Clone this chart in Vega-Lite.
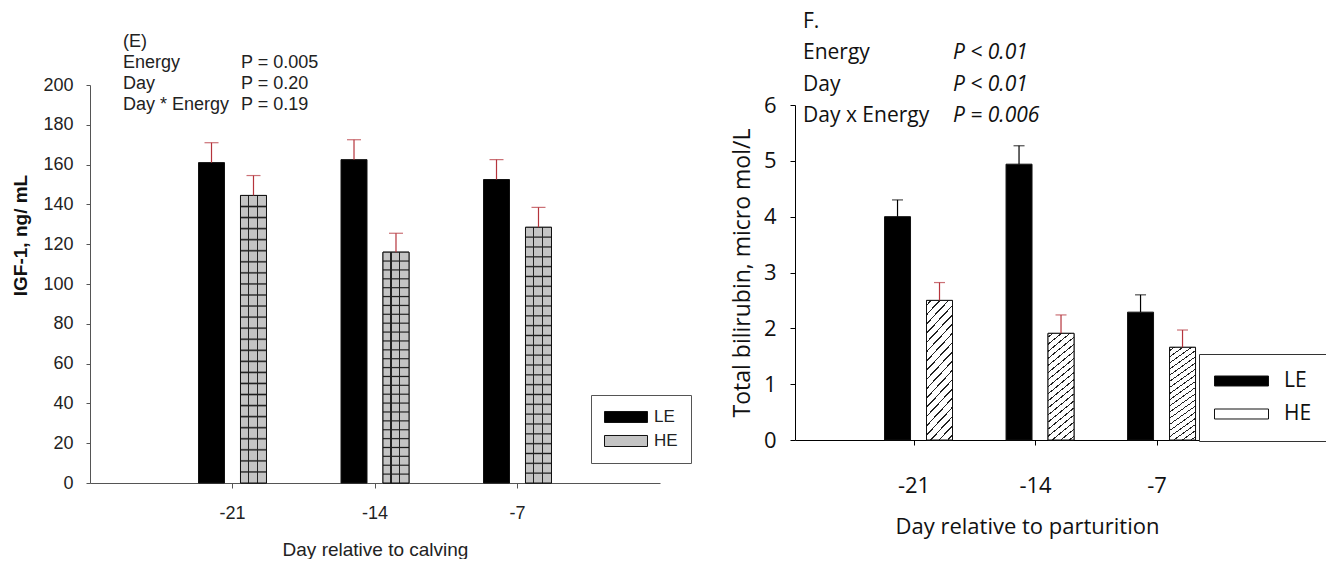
{
  "$schema": "https://vega.github.io/schema/vega-lite/v6.json",
  "padding": {"left": 11, "top": 11, "right": 0, "bottom": 0},
  "background": "white",
  "bounds": "flush",
  "spacing": 135,
  "config": {"view": {"stroke": null}, "axis": {"grid": false}},
  "resolve": {"scale": {"fill": "independent"}, "legend": {"fill": "independent"}},
  "datasets": {
    "igf": [
      {"day": -21, "energy": "LE", "mean": 161, "upper": 171},
      {"day": -21, "energy": "HE", "mean": 144.5, "upper": 154.5},
      {"day": -14, "energy": "LE", "mean": 162.5, "upper": 172.5},
      {"day": -14, "energy": "HE", "mean": 116, "upper": 125.5},
      {"day": -7, "energy": "LE", "mean": 152.5, "upper": 162.5},
      {"day": -7, "energy": "HE", "mean": 128.5, "upper": 138.5}
    ],
    "bili": [
      {"day": -21, "energy": "LE", "mean": 4.0, "upper": 4.3},
      {"day": -21, "energy": "HE", "mean": 2.5, "upper": 2.82},
      {"day": -14, "energy": "LE", "mean": 4.94, "upper": 5.27},
      {"day": -14, "energy": "HE", "mean": 1.91, "upper": 2.24},
      {"day": -7, "energy": "LE", "mean": 2.29, "upper": 2.6},
      {"day": -7, "energy": "HE", "mean": 1.66, "upper": 1.97}
    ],
    "annE": [
      {"row": "(E)", "col": "label", "text": "(E)"},
      {"row": "Energy", "col": "label", "text": "Energy"},
      {"row": "Energy", "col": "p", "text": "P = 0.005"},
      {"row": "Day", "col": "label", "text": "Day"},
      {"row": "Day", "col": "p", "text": "P = 0.20"},
      {"row": "Day * Energy", "col": "label", "text": "Day * Energy"},
      {"row": "Day * Energy", "col": "p", "text": "P = 0.19"}
    ],
    "annF": [
      {"row": "F.", "col": "label", "text": "F."},
      {"row": "Energy", "col": "label", "text": "Energy"},
      {"row": "Energy", "col": "p", "text": "P < 0.01"},
      {"row": "Day", "col": "label", "text": "Day"},
      {"row": "Day", "col": "p", "text": "P < 0.01"},
      {"row": "Day x Energy", "col": "label", "text": "Day x Energy"},
      {"row": "Day x Energy", "col": "p", "text": "P = 0.006"}
    ]
  },
  "hconcat": [
    {
      "width": 570,
      "height": 398,
      "layer": [
        {
          "data": {"name": "igf"},
          "encoding": {
            "x": {
              "field": "day", "type": "ordinal",
              "scale": {"type": "band", "domain": [-21, -14, -7], "paddingInner": 0.523, "paddingOuter": 0.7615},
              "axis": {"title": "Day relative to calving", "labelAngle": 0, "labelFont": "Liberation Sans", "labelFontSize": 18, "labelColor": "#222", "labelPadding": 16, "tickSize": 5, "tickColor": "#555", "domainColor": "#555", "titleFont": "Liberation Sans", "titleFontSize": 19, "titleFontWeight": "normal", "titleColor": "#222", "titlePadding": 18}
            },
            "xOffset": {"field": "energy", "type": "nominal", "scale": {"domain": ["LE", "HE"], "paddingInner": 0.381, "paddingOuter": 0}},
            "y": {
              "field": "mean", "type": "quantitative",
              "scale": {"domain": [0, 200], "nice": false},
              "axis": {"title": "IGF-1, ng/ mL", "titleY": 150, "values": [0, 20, 40, 60, 80, 100, 120, 140, 160, 180, 200], "tickSize": 4, "labelPadding": 13, "labelFont": "Liberation Sans", "labelFontSize": 18, "labelColor": "#222", "domainColor": "#555", "tickColor": "#555", "titleFont": "Liberation Sans", "titleFontSize": 19, "titleFontWeight": "bold", "titleColor": "#111", "titlePadding": 12}
            }
          },
          "layer": [
            {
              "mark": {"type": "bar", "stroke": "#111", "strokeWidth": 1},
              "encoding": {
                "fill": {
                  "field": "energy", "type": "nominal",
                  "scale": {"domain": ["LE", "HE"], "range": ["#000000", "#c4c4c4"]},
                  "legend": {"title": null, "orient": "none", "legendX": 501, "legendY": 310, "direction": "vertical", "symbolType": "M-1,-0.256H1V0.256H-1Z", "symbolSize": 1849, "symbolStrokeColor": "#111", "symbolStrokeWidth": 1, "labelFont": "Liberation Sans", "labelFontSize": 17, "labelColor": "#222", "labelOffset": 6, "padding": 13, "clipHeight": 18, "rowPadding": 6, "strokeColor": "#555", "fillColor": "white"}
                }
              }
            },
            {
              "transform": [{"filter": "datum.energy == 'HE'"}],
              "mark": {
                "type": "bar", "strokeWidth": 0,
                "fill": {"gradient": "linear", "x1": 0, "y1": 0, "x2": 0, "y2": 1, "stops": [
                  {"offset": 0, "color": "#c4c4c4"},
                  {"offset": 0.0335, "color": "#c4c4c4"}, {"offset": 0.0385, "color": "#1a1a1a"}, {"offset": 0.0435, "color": "#c4c4c4"},
                  {"offset": 0.0719, "color": "#c4c4c4"}, {"offset": 0.0769, "color": "#1a1a1a"}, {"offset": 0.0819, "color": "#c4c4c4"},
                  {"offset": 0.1104, "color": "#c4c4c4"}, {"offset": 0.1154, "color": "#1a1a1a"}, {"offset": 0.1204, "color": "#c4c4c4"},
                  {"offset": 0.1488, "color": "#c4c4c4"}, {"offset": 0.1538, "color": "#1a1a1a"}, {"offset": 0.1588, "color": "#c4c4c4"},
                  {"offset": 0.1873, "color": "#c4c4c4"}, {"offset": 0.1923, "color": "#1a1a1a"}, {"offset": 0.1973, "color": "#c4c4c4"},
                  {"offset": 0.2258, "color": "#c4c4c4"}, {"offset": 0.2308, "color": "#1a1a1a"}, {"offset": 0.2358, "color": "#c4c4c4"},
                  {"offset": 0.2642, "color": "#c4c4c4"}, {"offset": 0.2692, "color": "#1a1a1a"}, {"offset": 0.2742, "color": "#c4c4c4"},
                  {"offset": 0.3027, "color": "#c4c4c4"}, {"offset": 0.3077, "color": "#1a1a1a"}, {"offset": 0.3127, "color": "#c4c4c4"},
                  {"offset": 0.3412, "color": "#c4c4c4"}, {"offset": 0.3462, "color": "#1a1a1a"}, {"offset": 0.3512, "color": "#c4c4c4"},
                  {"offset": 0.3796, "color": "#c4c4c4"}, {"offset": 0.3846, "color": "#1a1a1a"}, {"offset": 0.3896, "color": "#c4c4c4"},
                  {"offset": 0.4181, "color": "#c4c4c4"}, {"offset": 0.4231, "color": "#1a1a1a"}, {"offset": 0.4281, "color": "#c4c4c4"},
                  {"offset": 0.4565, "color": "#c4c4c4"}, {"offset": 0.4615, "color": "#1a1a1a"}, {"offset": 0.4665, "color": "#c4c4c4"},
                  {"offset": 0.495, "color": "#c4c4c4"}, {"offset": 0.5, "color": "#1a1a1a"}, {"offset": 0.505, "color": "#c4c4c4"},
                  {"offset": 0.5335, "color": "#c4c4c4"}, {"offset": 0.5385, "color": "#1a1a1a"}, {"offset": 0.5435, "color": "#c4c4c4"},
                  {"offset": 0.5719, "color": "#c4c4c4"}, {"offset": 0.5769, "color": "#1a1a1a"}, {"offset": 0.5819, "color": "#c4c4c4"},
                  {"offset": 0.6104, "color": "#c4c4c4"}, {"offset": 0.6154, "color": "#1a1a1a"}, {"offset": 0.6204, "color": "#c4c4c4"},
                  {"offset": 0.6488, "color": "#c4c4c4"}, {"offset": 0.6538, "color": "#1a1a1a"}, {"offset": 0.6588, "color": "#c4c4c4"},
                  {"offset": 0.6873, "color": "#c4c4c4"}, {"offset": 0.6923, "color": "#1a1a1a"}, {"offset": 0.6973, "color": "#c4c4c4"},
                  {"offset": 0.7258, "color": "#c4c4c4"}, {"offset": 0.7308, "color": "#1a1a1a"}, {"offset": 0.7358, "color": "#c4c4c4"},
                  {"offset": 0.7642, "color": "#c4c4c4"}, {"offset": 0.7692, "color": "#1a1a1a"}, {"offset": 0.7742, "color": "#c4c4c4"},
                  {"offset": 0.8027, "color": "#c4c4c4"}, {"offset": 0.8077, "color": "#1a1a1a"}, {"offset": 0.8127, "color": "#c4c4c4"},
                  {"offset": 0.8412, "color": "#c4c4c4"}, {"offset": 0.8462, "color": "#1a1a1a"}, {"offset": 0.8512, "color": "#c4c4c4"},
                  {"offset": 0.8796, "color": "#c4c4c4"}, {"offset": 0.8846, "color": "#1a1a1a"}, {"offset": 0.8896, "color": "#c4c4c4"},
                  {"offset": 0.9181, "color": "#c4c4c4"}, {"offset": 0.9231, "color": "#1a1a1a"}, {"offset": 0.9281, "color": "#c4c4c4"},
                  {"offset": 0.9565, "color": "#c4c4c4"}, {"offset": 0.9615, "color": "#1a1a1a"}, {"offset": 0.9665, "color": "#c4c4c4"},
                  {"offset": 1, "color": "#c4c4c4"}
                ]}
              }
            },
            {
              "transform": [{"filter": "datum.energy == 'HE'"}],
              "mark": {
                "type": "bar", "stroke": "#111", "strokeWidth": 1,
                "fill": {"gradient": "linear", "x1": 0, "y1": 0, "x2": 1, "y2": 0, "stops": [
                  {"offset": 0, "color": "rgba(0,0,0,0)"},
                  {"offset": 0.288, "color": "rgba(0,0,0,0)"}, {"offset": 0.288, "color": "#222"}, {"offset": 0.332, "color": "#222"}, {"offset": 0.332, "color": "rgba(0,0,0,0)"},
                  {"offset": 0.618, "color": "rgba(0,0,0,0)"}, {"offset": 0.618, "color": "#222"}, {"offset": 0.662, "color": "#222"}, {"offset": 0.662, "color": "rgba(0,0,0,0)"},
                  {"offset": 1, "color": "rgba(0,0,0,0)"}
                ]}
              }
            },
            {
              "mark": {"type": "rule", "color": "#b5343c", "strokeWidth": 1.2},
              "encoding": {"y2": {"field": "upper"}}
            },
            {
              "mark": {"type": "tick", "orient": "horizontal", "color": "#b5343c", "size": 14, "thickness": 1.2},
              "encoding": {"y": {"field": "upper", "type": "quantitative", "title": "IGF-1, ng/ mL"}}
            }
          ]
        },
        {
          "data": {"name": "annE"},
          "encoding": {
            "x": {"field": "col", "type": "nominal", "scale": {"type": "point", "domain": ["label", "p"], "range": [33, 151], "padding": 0}, "axis": null},
            "y": {"field": "row", "type": "nominal", "scale": {"type": "point", "domain": ["(E)", "Energy", "Day", "Day * Energy"], "range": [-43, 20], "padding": 0}, "axis": null},
            "text": {"field": "text"}
          },
          "mark": {"type": "text", "align": "left", "baseline": "middle", "font": "Liberation Sans", "fontSize": 18, "color": "#222"}
        }
      ],
      "resolve": {"scale": {"x": "independent", "y": "independent"}}
    },
    {
      "width": 531,
      "height": 355,
      "layer": [
        {
          "data": {"name": "bili"},
          "encoding": {
            "x": {
              "field": "day", "type": "ordinal",
              "scale": {"type": "band", "domain": [-21, -14, -7], "paddingInner": 0.5144, "paddingOuter": 0.9422, "align": 0.391},
              "axis": {"title": "Day relative to parturition", "titleX": 232, "labelAngle": 0, "labelFont": "Open Sans", "labelFontSize": 22, "labelColor": "#111", "labelPadding": 30, "tickSize": 5, "tickColor": "#000", "domainColor": "#000", "titleFont": "Open Sans", "titleFontSize": 22, "titleFontWeight": "normal", "titleColor": "#111", "titlePadding": 20}
            },
            "xOffset": {"field": "energy", "type": "nominal", "scale": {"domain": ["LE", "HE"], "paddingInner": 0.366, "paddingOuter": 0.127, "align": 0.3}},
            "y": {
              "field": "mean", "type": "quantitative",
              "scale": {"domain": [0, 6], "nice": false, "range": [355, 20]},
              "axis": {"title": "Total bilirubin, micro mol/L", "values": [0, 1, 2, 3, 4, 5, 6], "tickSize": 5, "labelPadding": 14, "labelFont": "Open Sans", "labelFontSize": 22, "labelColor": "#111", "domainColor": "#000", "tickColor": "#000", "titleFont": "Open Sans", "titleFontSize": 23, "titleFontWeight": "normal", "titleColor": "#111", "titlePadding": 9}
            }
          },
          "layer": [
            {
              "mark": {"type": "bar", "stroke": "#111", "strokeWidth": 1},
              "encoding": {
                "fill": {
                  "field": "energy", "type": "nominal",
                  "scale": {"domain": ["LE", "HE"], "range": ["#000000", "#ffffff"]},
                  "legend": {"title": null, "orient": "none", "legendX": 404, "legendY": 269, "direction": "vertical", "symbolType": "M-1,-0.185H1V0.185H-1Z", "symbolSize": 2916, "symbolStrokeColor": "#111", "symbolStrokeWidth": 1, "labelFont": "Open Sans", "labelFontSize": 21, "labelColor": "#111", "labelOffset": 15, "padding": 15, "clipHeight": 24, "rowPadding": 9, "strokeColor": "#333", "fillColor": "white"}
                }
              }
            },
            {
              "transform": [{"filter": "datum.energy == 'HE'"}],
              "mark": {
                "type": "bar", "stroke": "#111", "strokeWidth": 1,
                "fill": {"gradient": "linear", "x1": 0, "y1": 0, "x2": 0.232, "y2": 1.16, "stops": [
                  {"offset": 0, "color": "#ffffff"},
                  {"offset": 0.025, "color": "#ffffff"}, {"offset": 0.025, "color": "#222"}, {"offset": 0.035, "color": "#222"}, {"offset": 0.035, "color": "#ffffff"},
                  {"offset": 0.08, "color": "#ffffff"}, {"offset": 0.08, "color": "#222"}, {"offset": 0.09, "color": "#222"}, {"offset": 0.09, "color": "#ffffff"},
                  {"offset": 0.135, "color": "#ffffff"}, {"offset": 0.135, "color": "#222"}, {"offset": 0.145, "color": "#222"}, {"offset": 0.145, "color": "#ffffff"},
                  {"offset": 0.19, "color": "#ffffff"}, {"offset": 0.19, "color": "#222"}, {"offset": 0.2, "color": "#222"}, {"offset": 0.2, "color": "#ffffff"},
                  {"offset": 0.245, "color": "#ffffff"}, {"offset": 0.245, "color": "#222"}, {"offset": 0.255, "color": "#222"}, {"offset": 0.255, "color": "#ffffff"},
                  {"offset": 0.3, "color": "#ffffff"}, {"offset": 0.3, "color": "#222"}, {"offset": 0.31, "color": "#222"}, {"offset": 0.31, "color": "#ffffff"},
                  {"offset": 0.355, "color": "#ffffff"}, {"offset": 0.355, "color": "#222"}, {"offset": 0.365, "color": "#222"}, {"offset": 0.365, "color": "#ffffff"},
                  {"offset": 0.41, "color": "#ffffff"}, {"offset": 0.41, "color": "#222"}, {"offset": 0.42, "color": "#222"}, {"offset": 0.42, "color": "#ffffff"},
                  {"offset": 0.465, "color": "#ffffff"}, {"offset": 0.465, "color": "#222"}, {"offset": 0.475, "color": "#222"}, {"offset": 0.475, "color": "#ffffff"},
                  {"offset": 0.52, "color": "#ffffff"}, {"offset": 0.52, "color": "#222"}, {"offset": 0.53, "color": "#222"}, {"offset": 0.53, "color": "#ffffff"},
                  {"offset": 0.575, "color": "#ffffff"}, {"offset": 0.575, "color": "#222"}, {"offset": 0.585, "color": "#222"}, {"offset": 0.585, "color": "#ffffff"},
                  {"offset": 0.63, "color": "#ffffff"}, {"offset": 0.63, "color": "#222"}, {"offset": 0.64, "color": "#222"}, {"offset": 0.64, "color": "#ffffff"},
                  {"offset": 0.685, "color": "#ffffff"}, {"offset": 0.685, "color": "#222"}, {"offset": 0.695, "color": "#222"}, {"offset": 0.695, "color": "#ffffff"},
                  {"offset": 0.74, "color": "#ffffff"}, {"offset": 0.74, "color": "#222"}, {"offset": 0.75, "color": "#222"}, {"offset": 0.75, "color": "#ffffff"},
                  {"offset": 0.795, "color": "#ffffff"}, {"offset": 0.795, "color": "#222"}, {"offset": 0.805, "color": "#222"}, {"offset": 0.805, "color": "#ffffff"},
                  {"offset": 0.85, "color": "#ffffff"}, {"offset": 0.85, "color": "#222"}, {"offset": 0.86, "color": "#222"}, {"offset": 0.86, "color": "#ffffff"},
                  {"offset": 0.905, "color": "#ffffff"}, {"offset": 0.905, "color": "#222"}, {"offset": 0.915, "color": "#222"}, {"offset": 0.915, "color": "#ffffff"},
                  {"offset": 0.96, "color": "#ffffff"}, {"offset": 0.96, "color": "#222"}, {"offset": 0.97, "color": "#222"}, {"offset": 0.97, "color": "#ffffff"},
                  {"offset": 1, "color": "#ffffff"}
                ]}
              }
            },
            {
              "mark": {"type": "rule", "strokeWidth": 1.2},
              "encoding": {
                "y2": {"field": "upper"},
                "color": {"condition": {"test": "datum.energy == 'HE'", "value": "#b5343c"}, "value": "#000000"}
              }
            },
            {
              "mark": {"type": "tick", "orient": "horizontal", "size": 11, "thickness": 1.2},
              "encoding": {
                "y": {"field": "upper", "type": "quantitative", "title": "Total bilirubin, micro mol/L"},
                "color": {"condition": {"test": "datum.energy == 'HE'", "value": "#b5343c"}, "value": "#000000"}
              }
            }
          ]
        },
        {
          "data": {"name": "annF"},
          "encoding": {
            "x": {"field": "col", "type": "nominal", "scale": {"type": "point", "domain": ["label", "p"], "range": [8, 158], "padding": 0}, "axis": null},
            "y": {"field": "row", "type": "nominal", "scale": {"type": "point", "domain": ["F.", "Energy", "Day", "Day x Energy"], "range": [-63, 31], "padding": 0}, "axis": null},
            "text": {"field": "text"}
          },
          "layer": [
            {
              "transform": [{"filter": "datum.col == 'label'"}],
              "mark": {"type": "text", "align": "left", "baseline": "middle", "font": "Open Sans", "fontSize": 21, "color": "#111"}
            },
            {
              "transform": [{"filter": "datum.col == 'p'"}],
              "mark": {"type": "text", "align": "left", "baseline": "middle", "font": "Open Sans", "fontSize": 21, "fontStyle": "italic", "color": "#111"}
            }
          ]
        }
      ],
      "resolve": {"scale": {"x": "independent", "y": "independent"}}
    }
  ]
}
